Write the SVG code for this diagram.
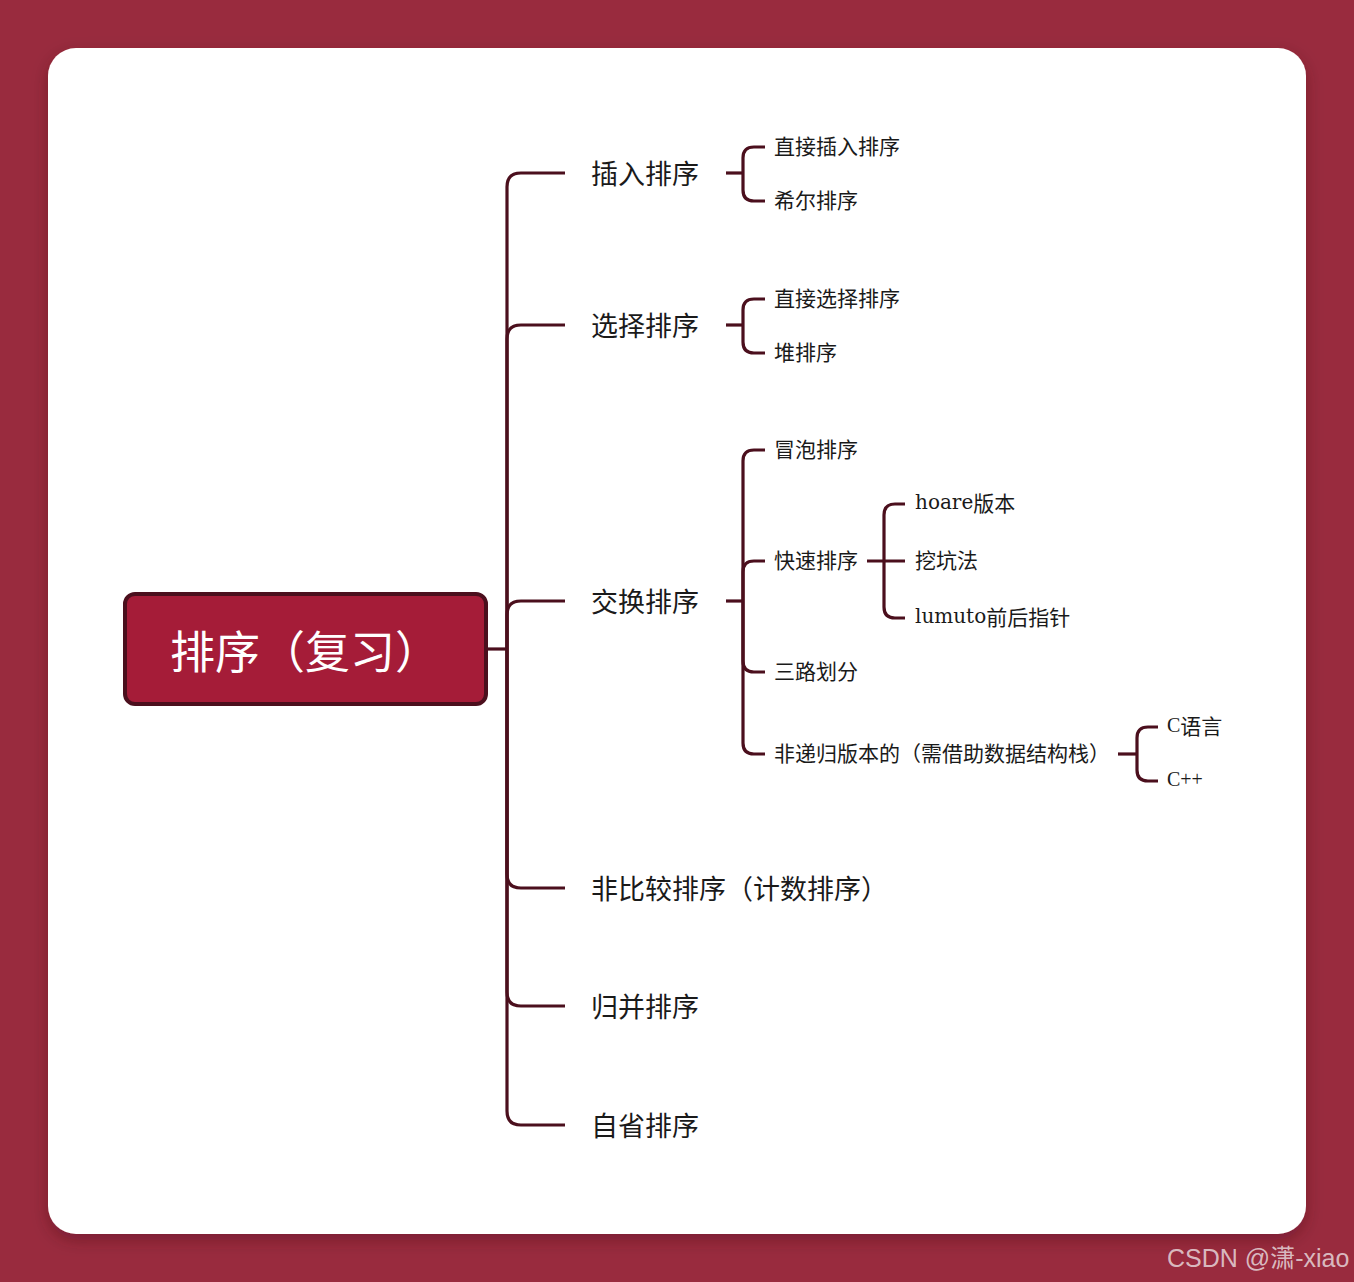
<svg xmlns="http://www.w3.org/2000/svg" width="1354" height="1282" viewBox="0 0 1354 1282">
<defs>
<filter id="sh" x="-5%" y="-5%" width="110%" height="110%">
<feDropShadow dx="0" dy="6" stdDeviation="8" flood-color="#3a0a14" flood-opacity="0.35"/>
</filter>
<style>
.c{fill:none;stroke:#4B0F1D;stroke-width:3.2;stroke-linecap:butt}
.t1{font-family:"Noto Sans CJK SC",sans-serif;font-size:27px;fill:#1a1a1a;dominant-baseline:central}
.t2{font-family:"Noto Sans CJK SC",sans-serif;font-size:21px;fill:#1a1a1a;dominant-baseline:central}
.lat{font-family:"DejaVu Serif",serif;font-size:20px}
.latc{font-family:"Liberation Serif",serif;font-size:20px}
</style>
</defs>
<rect width="1354" height="1282" fill="#992B3E"/>
<rect x="48" y="48" width="1258" height="1186" rx="28" fill="#ffffff" filter="url(#sh)"/>

<g id="connectors">
<path class="c" d="M487 649 H507"/>
<path class="c" d="M507 649 V187 Q507 173 521 173 H565"/>
<path class="c" d="M507 649 V339 Q507 325 521 325 H565"/>
<path class="c" d="M507 649 V615 Q507 601 521 601 H565"/>
<path class="c" d="M507 649 V874 Q507 888 521 888 H565"/>
<path class="c" d="M507 649 V992 Q507 1006 521 1006 H565"/>
<path class="c" d="M507 649 V1111 Q507 1125 521 1125 H565"/>

<path class="c" d="M726 173 H743"/>
<path class="c" d="M743 173 V158 Q743 147 754 147 H765"/>
<path class="c" d="M743 173 V190 Q743 201 754 201 H765"/>

<path class="c" d="M726 325 H743"/>
<path class="c" d="M743 325 V310 Q743 299 754 299 H765"/>
<path class="c" d="M743 325 V342 Q743 353 754 353 H765"/>

<path class="c" d="M726 601 H743"/>
<path class="c" d="M743 601 V461 Q743 450 754 450 H765"/>
<path class="c" d="M743 601 V572 Q743 561 754 561 H765"/>
<path class="c" d="M743 601 V661 Q743 672 754 672 H765"/>
<path class="c" d="M743 601 V743 Q743 754 754 754 H765"/>

<path class="c" d="M867 561 H905"/>
<path class="c" d="M884 561 V515 Q884 504 895 504 H905"/>
<path class="c" d="M884 561 V607 Q884 618 895 618 H905"/>

<path class="c" d="M1118 754 H1137"/>
<path class="c" d="M1137 754 V738 Q1137 727 1148 727 H1158"/>
<path class="c" d="M1137 754 V770 Q1137 781 1148 781 H1158"/>
</g>

<g id="root">
<rect x="125" y="594" width="361" height="110" rx="10" fill="#A51C38" stroke="#4B0F1D" stroke-width="4"/>
<text x="170" y="649" font-family="Noto Sans CJK SC,sans-serif" font-size="45" fill="#ffffff" dominant-baseline="central">排序（复习）</text>
</g>

<g id="n-insert"><text class="t1" x="591" y="172">插入排序</text></g>
<g id="n-insert-1"><text class="t2" x="774" y="145">直接插入排序</text></g>
<g id="n-insert-2"><text class="t2" x="774" y="199">希尔排序</text></g>

<g id="n-select"><text class="t1" x="591" y="324">选择排序</text></g>
<g id="n-select-1"><text class="t2" x="774" y="297">直接选择排序</text></g>
<g id="n-select-2"><text class="t2" x="774" y="351">堆排序</text></g>

<g id="n-swap"><text class="t1" x="591" y="600">交换排序</text></g>
<g id="n-swap-1"><text class="t2" x="774" y="448">冒泡排序</text></g>
<g id="n-swap-2"><text class="t2" x="774" y="559">快速排序</text></g>
<g id="n-swap-3"><text class="t2" x="774" y="670">三路划分</text></g>
<g id="n-swap-4"><text class="t2" x="774" y="752">非递归版本的（需借助数据结构栈）</text></g>

<g id="n-quick-1"><text class="t2" x="915" y="502"><tspan class="lat">hoare</tspan>版本</text></g>
<g id="n-quick-2"><text class="t2" x="915" y="559">挖坑法</text></g>
<g id="n-quick-3"><text class="t2" x="915" y="616"><tspan class="lat">lumuto</tspan>前后指针</text></g>

<g id="n-nr-1"><text class="t2" x="1167" y="725"><tspan class="latc">C</tspan>语言</text></g>
<g id="n-nr-2"><text class="t2" x="1167" y="779"><tspan class="latc">C++</tspan></text></g>

<g id="n-noncmp"><text class="t1" x="591" y="887">非比较排序（计数排序）</text></g>
<g id="n-merge"><text class="t1" x="591" y="1005">归并排序</text></g>
<g id="n-intro"><text class="t1" x="591" y="1124">自省排序</text></g>

<text x="1167" y="1267" font-family="Liberation Sans,Noto Sans CJK SC,sans-serif" font-size="25" fill="#E2CDD1" fill-opacity="0.9">CSDN @潇-xiao</text>
</svg>
